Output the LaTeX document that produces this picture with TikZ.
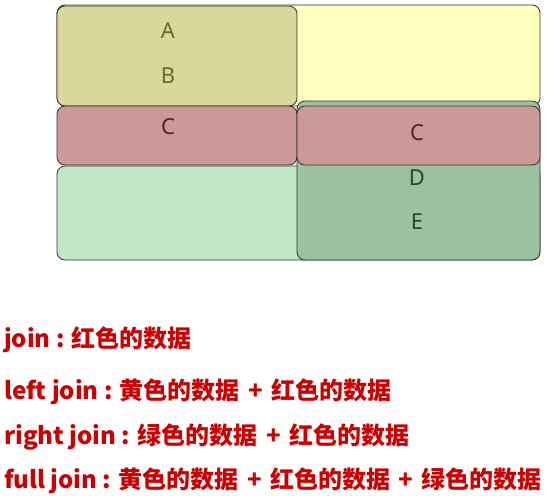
\documentclass[tikz,border=0pt]{standalone}
\usepackage{fontspec}
\setmainfont{Noto Sans}
\newfontfamily\cjk{Noto Sans CJK SC}
\usepackage{tikz}
\usetikzlibrary{positioning}
\definecolor{Edge}{HTML}{333333}
\definecolor{Yellow}{HTML}{FFFFC0}
\definecolor{Olive}{HTML}{D8D89A}
\definecolor{Rose}{HTML}{CC9999}
\definecolor{Mint}{HTML}{C0E8C4}
\definecolor{Sage}{HTML}{9AC29E}
\definecolor{OliveInk}{HTML}{6B6B25}
\definecolor{RoseInk}{HTML}{5C2020}
\definecolor{SageInk}{HTML}{1E4A2A}
\definecolor{Note}{HTML}{CC0000}
\newcommand\joinplus{\hspace{3pt}+\hspace{3pt}}

\begin{document}
\begin{tikzpicture}[
  x=1pt, y=-1pt,
  region/.style={rounded corners=8pt, draw=Edge, line width=0.8pt},
  letter/.style={font=\fontsize{22}{26}\selectfont, inner sep=0pt},
  note/.style={anchor=west, font=\cjk\bfseries\fontsize{24}{28}\selectfont, text=Note, inner sep=0pt}
]
\useasboundingbox (0,0) rectangle (548,495);
\draw[region, fill=Yellow] (57,5) rectangle (540,106);
\draw[region, fill=Mint] (57,166) rectangle (540,260);
\draw[region, fill=Olive] (57,6) rectangle (297,106);
\draw[region, fill=Sage] (297,101) rectangle (540,260);
\draw[region, fill=Rose] (57,106) rectangle (297,165);
\draw[region, fill=Rose] (297,106) rectangle (540,165);

\node[letter, text=OliveInk] (a) at (168,31) {A};
\node[letter, text=OliveInk] (b) at (168,76) {B};
\node[letter, text=RoseInk] (cleft) at (168,127) {C};
\node[letter, text=RoseInk] (cright) at (417,133) {C};
\node[letter, text=SageInk] (d) at (417,178) {D};
\node[letter, text=SageInk] (e) at (417,222) {E};

\node[note] (inner) at (4,340) {join : 红色的数据};
\node[note] (leftjoin) at (4,392) {left join : 黄色的数据 \joinplus{} 红色的数据};
\node[note] (rightjoin) at (4,437) {right join : 绿色的数据 \joinplus{} 红色的数据};
\node[note] (fulljoin) at (4,481) {full join : 黄色的数据 \joinplus{} 红色的数据 \joinplus{} 绿色的数据};
\end{tikzpicture}
\end{document}
